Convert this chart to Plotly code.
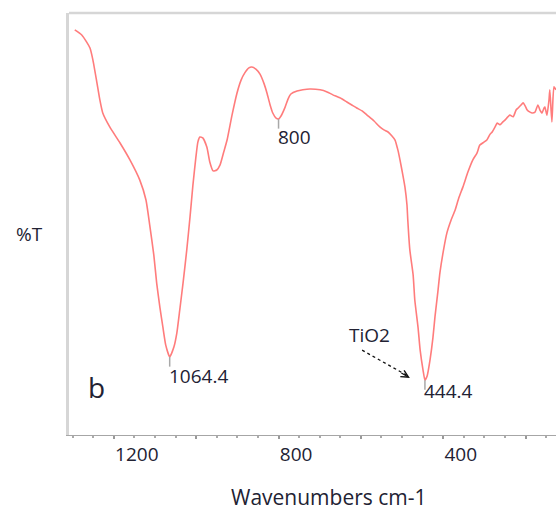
import plotly.graph_objects as go

# Spectrum (wavenumber cm-1, %T)
wavenumber = [1295, 1278, 1266, 1258, 1251, 1241, 1234, 1227, 1210, 1185, 1161, 1137, 1122, 1113,
              1103, 1096, 1088, 1081, 1074, 1064.4, 1054, 1047, 1040, 1032, 1023, 1015, 1008, 1001,
              996, 991, 984, 974, 967, 959, 950, 942, 933, 925, 913, 901, 891, 882, 872, 865, 855,
              845, 835, 828, 821, 814, 806, 800, 794, 784, 777, 770, 755, 741, 724, 699, 682, 668,
              651, 634, 622, 610, 597, 585, 568, 554, 544, 534, 525, 517, 510, 505, 498, 493, 488,
              486, 481, 473, 469, 461, 456, 449, 444.4, 439, 432, 425, 420, 413, 408, 400, 391, 381,
              371, 362, 352, 340, 328, 318, 311, 301, 294, 286, 281, 274, 269, 262, 255, 250, 243,
              238, 230, 223, 218, 211, 206, 201, 196, 189, 184, 177, 170, 165, 160, 155, 153, 148,
              143, 141, 136, 131, 126]
transmittance = [96.0, 94.8, 93.1, 91.7, 88.9, 83.4, 79.4, 76.3, 73.0, 69.2, 65.2, 60.4, 55.7, 49.8,
                 42.7, 36.0, 30.1, 25.6, 21.3, 18.5, 20.9, 24.2, 29.6, 36.0, 43.8, 51.7, 59.2, 65.6,
                 69.4, 70.6, 70.4, 68.2, 64.7, 62.6, 62.8, 64.0, 67.1, 69.9, 75.8, 81.0, 84.1, 85.8,
                 87.0, 87.2, 86.7, 85.5, 83.2, 81.0, 78.4, 76.3, 75.1, 74.9, 75.6, 77.7, 79.6, 80.8,
                 81.5, 81.8, 82.0, 81.8, 81.3, 80.6, 79.9, 78.9, 78.2, 77.5, 76.8, 75.8, 74.4, 73.0,
                 72.3, 71.8, 70.9, 69.9, 67.5, 65.2, 61.6, 58.8, 54.5, 50.9, 43.8, 37.9, 32.0, 25.4,
                 20.1, 15.4, 13.0, 14.0, 17.8, 23.0, 28.0, 33.9, 38.4, 43.4, 47.9, 50.9, 53.3, 56.2,
                 58.8, 62.3, 65.2, 66.8, 68.7, 69.4, 69.9, 71.3, 71.8, 73.0, 73.9, 73.5, 74.2, 74.6,
                 75.4, 75.8, 75.4, 77.0, 77.5, 78.2, 78.7, 78.0, 77.0, 76.5, 76.3, 76.5, 78.2, 77.0,
                 76.3, 77.5, 77.7, 75.8, 79.4, 81.8, 74.2, 82.5, 81.8]

# Marked peaks
peak_wn = [1064.4, 800, 444.4]
peak_T = [18.5, 74.9, 13.0]
peak_labels = ["1064.4", "800", "444.4"]
peak_label_T = [14.0, 70.6, 10.4]

# Axis ticks
tick_vals = [1200, 1000, 800, 600, 400, 200]
tick_text = ["1200", "", "800", "", "400", ""]

FONT = "Open Sans, Noto Sans, DejaVu Sans, sans-serif"
TXT = "#222233"

fig = go.Figure()
fig.add_trace(go.Scatter(x=wavenumber, y=transmittance, mode="lines",
                         line=dict(color="#ff7c7c", width=1.6, shape="spline", smoothing=0.5),
                         hoverinfo="skip", showlegend=False))

# peak markers and labels
for wn, t, lt, lab in zip(peak_wn, peak_T, peak_label_T, peak_labels):
    fig.add_shape(type="line", x0=wn, x1=wn, y0=t, y1=t - 2.3, xref="x", yref="y",
                  line=dict(color="#a8a8a8", width=1.5))
    fig.add_annotation(x=wn, y=lt, text=lab, showarrow=False, xanchor="left",
                       xshift=-3, yanchor="middle",
                       font=dict(family=FONT, size=19, color=TXT))

# TiO2 annotation with dotted arrow
fig.add_shape(type="line", x0=597, y0=20.1, x1=484, y1=13.9, xref="x", yref="y",
              line=dict(color="#111111", width=1.3, dash="dot"))
fig.add_annotation(x=481, y=13.5, ax=-10, ay=-6, xref="x", yref="y",
                   text="", showarrow=True, arrowhead=5, arrowsize=1.2, arrowwidth=1.2,
                   arrowcolor="#111111")
fig.add_annotation(x=580, y=23.7, text="TiO2", showarrow=False, xanchor="center",
                   yanchor="middle", font=dict(family=FONT, size=19, color=TXT))

# panel letter
fig.add_annotation(x=1241, y=11.4, text="b", showarrow=False, xanchor="center", yanchor="middle",
                   font=dict(family=FONT, size=28, color=TXT))

# axis titles
fig.add_annotation(x=-0.082, y=0.476, xref="paper", yref="paper", text="%T", showarrow=False,
                   xanchor="center", yanchor="middle", font=dict(family=FONT, size=19, color=TXT))
fig.add_annotation(x=0.534, y=-0.146, xref="paper", yref="paper", text="Wavenumbers cm-1",
                   showarrow=False, xanchor="center", yanchor="middle",
                   font=dict(family=FONT, size=21, color=TXT))

# top frame line
fig.add_shape(type="line", x0=0, x1=1, y0=1, y1=1, xref="paper", yref="paper",
              line=dict(color="#d6d6d6", width=2.5))

fig.update_layout(
    width=556, height=510,
    margin=dict(l=69, r=0, t=13, b=75),
    paper_bgcolor="white", plot_bgcolor="white",
    xaxis=dict(range=[1309, 126], showgrid=False, zeroline=False,
               showline=True, linecolor="#a6a6a6", linewidth=1,
               tickmode="array", tickvals=tick_vals, ticktext=tick_text,
               ticks="outside", ticklen=3, tickcolor="#999999", tickwidth=1.5,
               ticklabelposition="outside right", ticklabelstandoff=2,
               minor=dict(dtick=50, tick0=0, ticks="outside", ticklen=2, tickcolor="#aaaaaa"),
               tickfont=dict(family=FONT, size=19, color=TXT)),
    yaxis=dict(range=[0, 100], showgrid=False, zeroline=False, showticklabels=False,
               showline=True, linecolor="#d6d6d6", linewidth=2.5, ticks=""),
    font=dict(family=FONT),
)

fig.write_html("out.html", config={"displayModeBar": False})
# remove the default page margin so the figure sits at the window's top-left corner
with open("out.html", encoding="utf-8") as f:
    html = f.read()
html = html.replace("<head>", "<head><style>html,body{margin:0;padding:0;overflow:hidden;}</style>", 1)
with open("out.html", "w", encoding="utf-8") as f:
    f.write(html)
